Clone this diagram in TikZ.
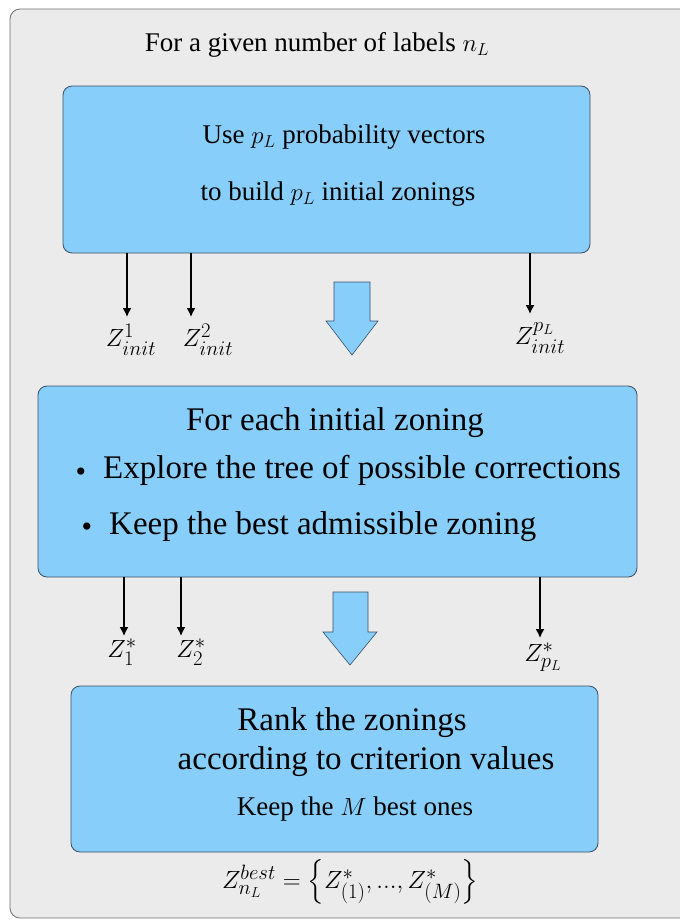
\documentclass[tikz,border=0pt]{standalone}
\usepackage{amsmath}
\usepackage{fontspec}
\setmainfont{Liberation Serif}
\usetikzlibrary{arrows.meta}
\definecolor{bgc}{RGB}{235,235,235}
\definecolor{boxc}{RGB}{135,206,250}
\definecolor{boxline}{RGB}{60,80,100}
\definecolor{frame}{RGB}{110,110,110}
\begin{document}
\begin{tikzpicture}[x=1pt,y=-1pt,
  stepbox/.style={draw=boxline,line width=0.8pt,fill=boxc,rounded corners=9pt},
  thin arrow/.style={-{Latex[length=9pt,width=9pt]},line width=1.5pt,black},
  bigarrow/.style={fill=boxc,draw=boxline,line width=0.6pt},
  small/.style={font=\fontsize{27}{32}\selectfont,inner sep=0pt},
  large/.style={font=\fontsize{33}{38}\selectfont,inner sep=0pt},
  dot/.style={font=\fontsize{30}{34}\selectfont,inner sep=0pt},
  lbl/.style={font=\fontsize{29}{34}\selectfont,inner sep=0pt}]
\useasboundingbox (0,0) rectangle (680,924);
\draw[frame,fill=bgc,line width=0.8pt,rounded corners=10pt] (10,9) rectangle (700,918);
\node[small] (title) at (317,45) {For a given number of labels $n_L$};

% box 1
\draw[stepbox] (63,86) rectangle (590,253);
\node[small] (t1a) at (344,137) {Use $p_L$ probability vectors};
\node[small] (t1b) at (338,194) {to build $p_L$ initial zonings};

\coordinate (s11) at (127,253); \coordinate (e11) at (127,317);
\coordinate (s12) at (191,253); \coordinate (e12) at (191,317);
\coordinate (s13) at (530,253); \coordinate (e13) at (530,314);
\draw[thin arrow] (s11) -- (e11);
\draw[thin arrow] (s12) -- (e12);
\draw[thin arrow] (s13) -- (e13);
\node[lbl] (z1) at (131,340) {$Z^1_{init}$};
\node[lbl] (z2) at (208,340) {$Z^2_{init}$};
\node[lbl] (z3) at (540,338) {$Z^{p_L}_{init}$};

\draw[bigarrow] (334,282) -- (370,282) -- (370,321) -- (378,321) -- (352,355) -- (326,321) -- (334,321) -- cycle;

% box 2
\draw[stepbox] (38,386) rectangle (637,577);
\node[large] (t2a) at (335,423) {For each initial zoning};
\node[dot] (d1) at (81,475) {\textbullet};
\node[large,anchor=west] (t2b) at (103,470) {Explore the tree of possible corrections};
\node[dot] (d2) at (87,530) {\textbullet};
\node[large,anchor=west] (t2c) at (109,527) {Keep the best admissible zoning};

\coordinate (s21) at (124,577); \coordinate (e21) at (124,636);
\coordinate (s22) at (181,577); \coordinate (e22) at (181,636);
\coordinate (s23) at (540,577); \coordinate (e23) at (540,638);
\draw[thin arrow] (s21) -- (e21);
\draw[thin arrow] (s22) -- (e22);
\draw[thin arrow] (s23) -- (e23);
\node[lbl] (y1) at (122,652) {$Z^*_1$};
\node[lbl] (y2) at (191,652) {$Z^*_2$};
\node[lbl] (y3) at (543,657) {$Z^*_{p_L}$};

\draw[bigarrow] (333,592) -- (368,592) -- (368,632) -- (377,632) -- (350,665) -- (323,632) -- (333,632) -- cycle;

% box 3
\draw[stepbox] (71,686) rectangle (598,852);
\node[large] (t3a) at (352,723) {Rank the zonings};
\node[large] (t3b) at (366,762) {according to criterion values};
\node[small] (t3c) at (355,809) {Keep the $M$ best ones};

\node[lbl,font=\fontsize{31}{36}\selectfont] (best) at (350,882) {$Z^{best}_{n_L}=\Big\{Z^*_{(1)},...,Z^*_{(M)}\Big\}$};
\end{tikzpicture}
\end{document}
